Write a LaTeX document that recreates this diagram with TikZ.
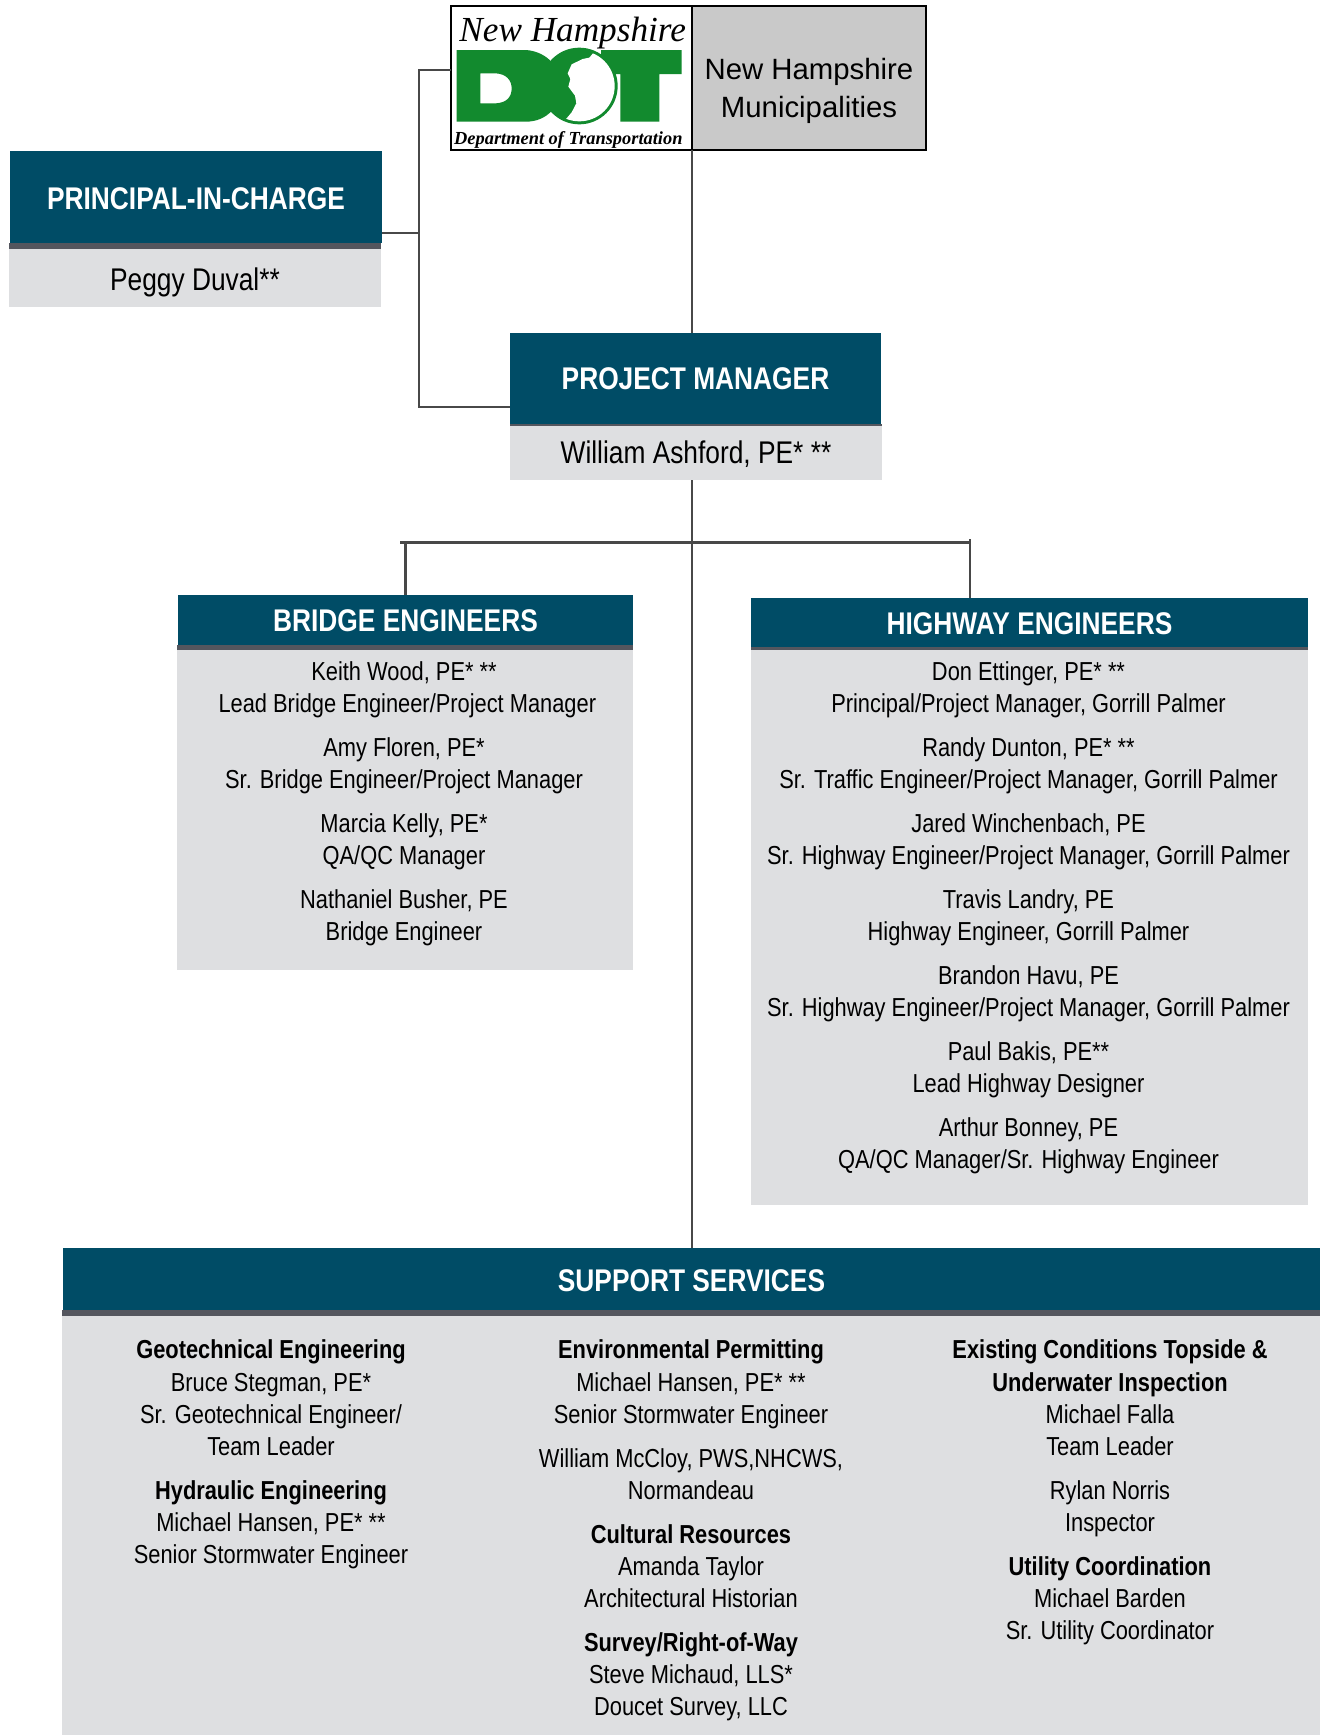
\documentclass[tikz,border=0pt]{standalone}
\usepackage{fontspec}
\setmainfont[FakeStretch=0.84]{Liberation Sans}
\newfontfamily\plainfont{Liberation Sans}
\newfontfamily\logofont{Liberation Serif}
\definecolor{hdrblue}{HTML}{004C66}
\definecolor{barsteel}{HTML}{54565E}
\definecolor{panelgrey}{HTML}{DEDFE1}
\definecolor{munigrey}{HTML}{C9C9C9}
\definecolor{linegrey}{HTML}{484848}
\definecolor{dotgreen}{HTML}{128A2E}
\tikzset{
  hdrbox/.style={fill=hdrblue,text=white,inner sep=0pt,font=\fontsize{23.5pt}{27pt}\selectfont\bfseries},
  barbox/.style={fill=barsteel,inner sep=0pt},
  bodybox/.style={fill=panelgrey,inner sep=0pt,font=\fontsize{23.5pt}{28pt}\selectfont},
  paneltext/.style={inner sep=0pt,align=center,text=black,font=\fontsize{19.5pt}{24.15pt}\selectfont},
  conn/.style={draw=linegrey,line width=1.2pt},
  connthick/.style={draw=linegrey,line width=2.1pt},
  connbar/.style={draw=linegrey,line width=2.6pt}
}
% name, x0, y0, x1, y1, style, text
\newcommand\pxbox[7]{\node[#6,minimum width={(#4-#2)*.75pt},minimum height={(#5-#3)*.75pt}] (#1) at ({(#2+#4)/2},{(#3+#5)/2}) {#7};}
% text whose baseline lies #1 below the centre of its box
\newcommand\atbase[2]{\raisebox{-#1}[0pt][0pt]{#2}}
\begin{document}
\begin{tikzpicture}[x=.75pt,y=-.75pt]
\useasboundingbox (0,0) rectangle (1320,1735);
% top boxes
\pxbox{logo}{451}{6}{692}{150}{fill=white,inner sep=0pt}{}
\pxbox{muni}{692}{6}{926}{150}{fill=munigrey,inner sep=0pt}{}
\node[inner sep=0pt,align=center,font=\plainfont\fontsize{22pt}{28pt}\selectfont] (munitext) at (809,91) {New Hampshire\\Municipalities};
\begin{scope}[shift={(451,5)},x=.25pt,y=-.25pt]
  \fill[dotgreen,even odd rule] (17,135) -- (225,135) .. controls (290,140) and (330,190) .. (330,243) .. controls (330,300) and (290,350) .. (225,350) -- (17,350) -- cycle
     (88,205) -- (135,205) .. controls (165,207) and (182,225) .. (182,250) .. controls (182,278) and (165,293) .. (135,295) -- (88,295) -- cycle;
  \fill[dotgreen] (450,135) -- (692,135) -- (692,207) -- (625,207) -- (625,350) -- (508,350) -- (508,207) -- (450,207) -- cycle;
  \fill[dotgreen] (385,243) circle (115);
  \begin{scope}
    \clip (385,243) circle (106);
    \fill[white] (455,125) -- (430,140) -- (415,158) -- (395,162) -- (362,178) -- (350,205) -- (358,222) -- (352,245) -- (372,272) -- (376,295) -- (362,322) -- (330,360) -- (520,370) -- (520,120) -- cycle;
  \end{scope}
  \node[inner sep=0pt,font=\logofont\itshape\fontsize{26.4pt}{30pt}\selectfont] (logoscript) at (365,84) {New Hampshire};
  \node[inner sep=0pt,font=\logofont\bfseries\itshape\fontsize{13.8pt}{16pt}\selectfont] (logocaption) at (352,405) {Department of Transportation};
\end{scope}
\draw[black,line width=1.5pt] (logo.north west) rectangle (muni.south east);
\draw[black,line width=1.3pt] (muni.north west) -- (muni.south west);
% principal in charge
\pxbox{pichdr}{10}{151}{382}{243}{hdrbox}{\atbase{9.7pt}{PRINCIPAL-IN-CHARGE}}
\pxbox{picbar}{9}{243}{381}{249}{barbox}{}
\pxbox{picbody}{9}{249}{381}{307}{bodybox}{\atbase{9pt}{Peggy Duval**}}
% project manager
\pxbox{pmhdr}{510}{333}{881}{424}{hdrbox}{\atbase{8.5pt}{PROJECT MANAGER}}
\pxbox{pmbar}{510}{424}{882}{426}{barbox}{}
\pxbox{pmbody}{510}{426}{882}{480}{bodybox}{\atbase{7.6pt}{William Ashford, PE* **}}
% bridge
\pxbox{brhdr}{178}{595}{633}{645}{hdrbox}{\atbase{8.6pt}{BRIDGE ENGINEERS}}
\pxbox{brbar}{177}{645}{633}{650}{barbox}{}
\pxbox{brbody}{177}{650}{633}{970}{fill=panelgrey,inner sep=0pt}{}
% highway
\pxbox{hwhdr}{751}{598}{1308}{647}{hdrbox}{\atbase{9pt}{HIGHWAY ENGINEERS}}
\pxbox{hwbar}{751}{647}{1308}{650}{barbox}{}
\pxbox{hwbody}{751}{650}{1308}{1205}{fill=panelgrey,inner sep=0pt}{}
% support
\pxbox{sshdr}{63}{1248}{1320}{1310}{hdrbox}{\atbase{9.3pt}{SUPPORT SERVICES}}
\pxbox{ssbar}{62}{1310}{1320}{1316}{barbox}{}
\pxbox{ssbody}{62}{1316}{1320}{1735}{fill=panelgrey,inner sep=0pt}{}
% connectors
\coordinate (logostub) at (451,70);
\coordinate (brkTop) at (419,70);
\coordinate (brkMid) at (419,233);
\coordinate (brkBot) at (419,407);
\coordinate (picstub) at (382,233);
\coordinate (pmstub) at (510,407);
\coordinate (busL) at (400,542.5);
\coordinate (busR) at (970,542.5);
\coordinate (dropLtop) at (405.5,542.5);
\coordinate (dropLbot) at (405.5,595);
\coordinate (dropRtop) at (970,539);
\coordinate (dropRbot) at (970,598);
\coordinate (trunkA) at (692,150);
\coordinate (trunkB) at (692,333);
\coordinate (trunkC) at (692,480);
\coordinate (trunkD) at (692,1248);
\draw[connthick] (logostub) -- (brkTop) -- (brkBot) -- (pmstub);
\draw[conn,line width=1.6pt] (picstub) -- (brkMid);
\draw[conn] (trunkA) -- (trunkB);
\draw[conn] (trunkC) -- (trunkD);
\draw[connbar] (busL) -- (busR);
\draw[conn,line width=1.6pt] (dropLtop) -- (dropLbot);
\draw[conn] (dropRtop) -- (dropRbot);
% texts
\node[paneltext] (brtext) at (404,804) {Keith Wood, PE* **\\\hspace*{5pt}Lead Bridge Engineer/Project Manager\\[8.7pt]
Amy Floren, PE*\\Sr. Bridge Engineer/Project Manager\\[8.7pt]
Marcia Kelly, PE*\\QA/QC Manager\\[8.7pt]
Nathaniel Busher, PE\\Bridge Engineer};
\node[paneltext] (hwtext) at (1028.5,918) {Don Ettinger, PE* **\\Principal/Project Manager, Gorrill Palmer\\[8.7pt]
Randy Dunton, PE* **\\Sr. Traffic Engineer/Project Manager, Gorrill Palmer\\[8.7pt]
Jared Winchenbach, PE\\Sr. Highway Engineer/Project Manager, Gorrill Palmer\\[8.7pt]
Travis Landry, PE\\Highway Engineer, Gorrill Palmer\\[8.7pt]
Brandon Havu, PE\\Sr. Highway Engineer/Project Manager, Gorrill Palmer\\[8.7pt]
Paul Bakis, PE**\\Lead Highway Designer\\[8.7pt]
Arthur Bonney, PE\\QA/QC Manager/Sr. Highway Engineer};
\node[paneltext] (sstextL) at (271,1454.5) {\textbf{Geotechnical Engineering}\\Bruce Stegman, PE*\\Sr. Geotechnical Engineer/\\Team Leader\\[8.7pt]
\textbf{Hydraulic Engineering}\\Michael Hansen, PE* **\\Senior Stormwater Engineer};
\node[paneltext] (sstextM) at (691,1530.5) {\textbf{Environmental Permitting}\\Michael Hansen, PE* **\\Senior Stormwater Engineer\\[8.7pt]
William McCloy, PWS,NHCWS,\\Normandeau\\[8.7pt]
\textbf{Cultural Resources}\\Amanda Taylor\\Architectural Historian\\[8.7pt]
\textbf{Survey/Right-of-Way}\\Steve Michaud, LLS*\\Doucet Survey, LLC};
\node[paneltext] (sstextR) at (1110,1492.5) {\textbf{Existing Conditions Topside \&}\\\textbf{Underwater Inspection}\\Michael Falla\\Team Leader\\[8.7pt]
Rylan Norris\\Inspector\\[8.7pt]
\textbf{Utility Coordination}\\Michael Barden\\Sr. Utility Coordinator};
\end{tikzpicture}
\end{document}
